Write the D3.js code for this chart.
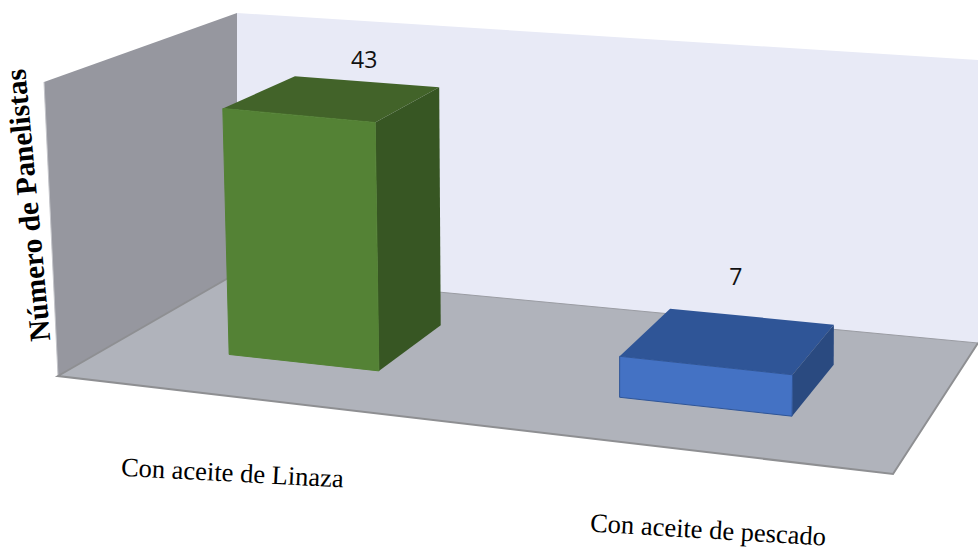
<!DOCTYPE html>
<html>
<head>
<meta charset="utf-8">
<script src="https://cdn.jsdelivr.net/npm/d3@7"></script>
<style>
    html, body { margin: 0; padding: 0; background: #fff; overflow: hidden; }
    svg { display: block; }
</style>
</head>
<body>
<svg id="chart" width="978" height="548"></svg>
<script>
// Chart values
const categories = ['Con aceite de Linaza', 'Con aceite de pescado'];
const values = [43, 7];
const yTitle = 'Número de Panelistas';
const frontColors = ['#548235', '#4472c4'];
const topColors = ['#426329', '#2f5597'];
const sideColors = ['#375623', '#2a4a80'];
const strokeColors = ['#548235', '#2f5597'];

// Where the room sits on the page: floor and ceiling corners
const floorCorners = [[58, 376], [893, 474], [978, 343], [237, 273]];
const ceilCorners = [[44, 82], [901, 170], [978, 60], [237, 13]];

// Offsets of the texts, they don't follow the bars exactly in the original
const valueOffset = [[-2, -20], [-15, -38]];
const catOffset = [[-18, 77], [41, 85]];
const catAngle = [3, 3.4];

// Maps the unit square onto a quad, gives the perspective of the floor
function makeHomography(q) {
    let [p0, p1, p2, p3] = q;
    let sx = p0[0] - p1[0] + p2[0] - p3[0];
    let sy = p0[1] - p1[1] + p2[1] - p3[1];
    let dx1 = p1[0] - p2[0], dy1 = p1[1] - p2[1];
    let dx2 = p3[0] - p2[0], dy2 = p3[1] - p2[1];
    let det = dx1 * dy2 - dx2 * dy1;
    let g = (sx * dy2 - dx2 * sy) / det;
    let h = (dx1 * sy - sx * dy1) / det;
    return function(u, v) {
        let w = g * u + h * v + 1;
        return [
            ((p1[0] - p0[0] + g * p1[0]) * u + (p3[0] - p0[0] + h * p3[0]) * v + p0[0]) / w,
            ((p1[1] - p0[1] + g * p1[1]) * u + (p3[1] - p0[1] + h * p3[1]) * v + p0[1]) / w
        ];
    };
}

const floorMap = makeHomography(floorCorners);

// Vector from floor up to ceiling, blended between the four corners
function liftAt(u, v, k) {
    let c = floorCorners.map((p, i) => ceilCorners[i][k] - p[k]);
    return (c[0] * (1 - u) + c[1] * u) * (1 - v) + (c[3] * (1 - u) + c[2] * u) * v;
}

// Scales: category across the floor, depth into the room, value up the wall
let xScale = d3.scaleBand()
                .domain(categories)
                .range([0.0075, 1.0075])
                .paddingInner(0.6)
                .paddingOuter(0.3);
let depthScale = d3.scaleLinear().domain([0, 1]).range([0.30, 0.71]);
let yScale = d3.scaleLinear().domain([0, 50]).range([0, 1]);

function project(u, v, value) {
    let a = floorMap(u, v);
    let t = yScale(value);
    return [a[0] + liftAt(u, v, 0) * t, a[1] + liftAt(u, v, 1) * t];
}

let svg = d3.select('#chart');
let line = d3.line();
function poly(points) { return line(points) + 'Z'; }

// Back wall, side wall, floor
svg.append('path')
    .attr('d', poly([project(0, 1, 0), project(1, 1, 0), project(1, 1, 50), project(0, 1, 50)]))
    .attr('fill', '#e8eaf6');
svg.append('path')
    .attr('d', poly([project(0, 0, 0), project(0, 1, 0), project(0, 1, 50), project(0, 0, 50)]))
    .attr('fill', '#96979f');
svg.append('path')
    .attr('d', line([project(0, 0, 0), project(0, 0, 50)]))
    .attr('stroke', '#c4c5ca').attr('stroke-width', 1).attr('fill', 'none');
svg.append('path')
    .attr('d', poly([project(0, 0, 0), project(1, 0, 0), project(1, 1, 0), project(0, 1, 0)]))
    .attr('fill', '#b0b3bb');
svg.append('path')
    .attr('d', line([project(0, 1, 0), project(1, 1, 0)]))
    .attr('stroke', '#9a9ca3').attr('stroke-width', 1).attr('fill', 'none');
svg.append('path')
    .attr('d', line([project(0, 1, 0), project(0, 0, 0), project(1, 0, 0), project(1, 1, 0)]))
    .attr('stroke', '#8e8f92').attr('stroke-width', 2).attr('fill', 'none');

// Bars
let data = categories.map((c, i) => ({ category: c, value: values[i], i: i }));

let bars = svg.selectAll('g.bar').data(data).enter().append('g').attr('class', 'bar');

bars.append('path') // top
    .attr('d', d => {
        let x0 = xScale(d.category), x1 = x0 + xScale.bandwidth();
        let z0 = depthScale(0), z1 = depthScale(1);
        return poly([project(x0, z0, d.value), project(x1, z0, d.value), project(x1, z1, d.value), project(x0, z1, d.value)]);
    })
    .attr('fill', d => topColors[d.i]);

bars.append('path') // right side
    .attr('d', d => {
        let x1 = xScale(d.category) + xScale.bandwidth();
        let z0 = depthScale(0), z1 = depthScale(1);
        return poly([project(x1, z0, 0), project(x1, z1, 0), project(x1, z1, d.value), project(x1, z0, d.value)]);
    })
    .attr('fill', d => sideColors[d.i]);

bars.append('path') // front
    .attr('d', d => {
        let x0 = xScale(d.category), x1 = x0 + xScale.bandwidth();
        let z0 = depthScale(0);
        return poly([project(x0, z0, 0), project(x1, z0, 0), project(x1, z0, d.value), project(x0, z0, d.value)]);
    })
    .attr('fill', d => frontColors[d.i])
    .attr('stroke', d => strokeColors[d.i])
    .attr('stroke-width', 1);

// Value labels
svg.selectAll('text.value').data(data).enter().append('text')
    .attr('class', 'value')
    .attr('text-anchor', 'middle')
    .attr('dominant-baseline', 'middle')
    .attr('font-family', '"Open Sans", sans-serif')
    .attr('font-size', 23)
    .attr('fill', '#111')
    .attr('x', d => project(xScale(d.category) + xScale.bandwidth() / 2, depthScale(1), d.value)[0] + valueOffset[d.i][0])
    .attr('y', d => project(xScale(d.category) + xScale.bandwidth() / 2, depthScale(1), d.value)[1] + valueOffset[d.i][1])
    .text(d => d.value);

// Category labels, slightly tilted like the floor
svg.selectAll('text.cat').data(data).enter().append('text')
    .attr('class', 'cat')
    .attr('text-anchor', 'middle')
    .attr('dominant-baseline', 'middle')
    .attr('font-family', '"Liberation Serif", serif')
    .attr('font-size', 26.5)
    .attr('fill', '#000')
    .attr('transform', d => {
        let p = project(xScale(d.category) + xScale.bandwidth() / 2, 0, 0);
        return 'translate(' + (p[0] + catOffset[d.i][0]) + ',' + (p[1] + catOffset[d.i][1]) + ') rotate(' + catAngle[d.i] + ')';
    })
    .text(d => d.category);

// Y axis title
svg.append('text')
    .attr('text-anchor', 'middle')
    .attr('dominant-baseline', 'middle')
    .attr('font-family', '"Liberation Serif", serif')
    .attr('font-weight', 'bold')
    .attr('font-size', 29.5)
    .attr('fill', '#000')
    .attr('transform', 'translate(31,205) rotate(-95.3)')
    .text(yTitle);
</script>
</body>
</html>
